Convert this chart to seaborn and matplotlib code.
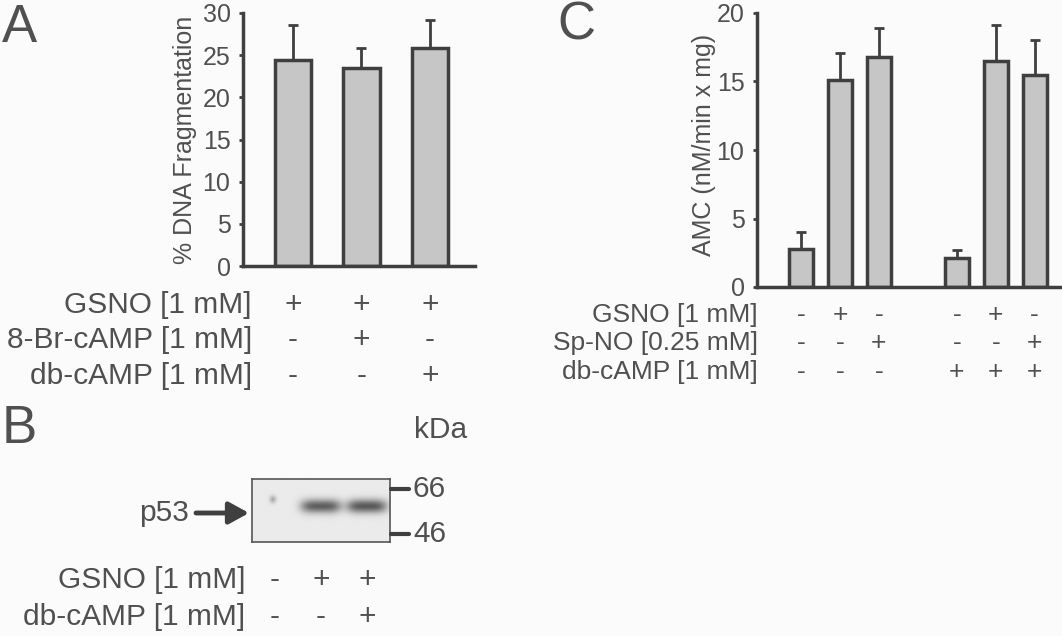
import numpy as np
import matplotlib
matplotlib.use("Agg")
import matplotlib.pyplot as plt
import matplotlib.transforms as mtransforms
import seaborn as sns

# --- data ---
# panel A: DNA fragmentation
a_conditions = ["GSNO", "GSNO+8-Br-cAMP", "GSNO+db-cAMP"]
a_values = [24.4, 23.5, 25.8]
a_errors = [4.2, 2.3, 3.4]
a_row_labels = ["GSNO [1 mM]", "8-Br-cAMP [1 mM]", "db-cAMP [1 mM]"]
a_gsno = ["+", "+", "+"]
a_brcamp = ["-", "+", "-"]
a_dbcamp = ["-", "-", "+"]

# panel B: p53 western blot
b_row_labels = ["GSNO [1 mM]", "db-cAMP [1 mM]"]
b_gsno = ["-", "+", "+"]
b_dbcamp = ["-", "-", "+"]
b_band_intensity = [0.25, 0.55, 0.57]
b_markers = ["66", "46"]

# panel C: AMC release
c_conditions = ["ctrl", "GSNO", "Sp-NO", "db", "db+GSNO", "db+Sp-NO"]
c_values = [2.8, 15.1, 16.8, 2.1, 16.5, 15.5]
c_errors = [1.2, 2.0, 2.1, 0.6, 2.6, 2.5]
c_row_labels = ["GSNO [1 mM]", "Sp-NO [0.25 mM]", "db-cAMP [1 mM]"]
c_gsno = ["-", "+", "-", "-", "+", "-"]
c_spno = ["-", "-", "+", "-", "-", "+"]
c_dbcamp = ["-", "-", "-", "+", "+", "+"]

# --- style ---
W, H = 1062, 636
TXT = "#505050"
EDGE = "#3f3f3f"
FILL = "#c6c6c6"
FS = 21.5

sns.set_theme(style="white")
plt.rcParams["font.family"] = ["Liberation Sans", "DejaVu Sans"]
plt.rcParams["text.color"] = TXT
plt.rcParams["axes.labelcolor"] = TXT
plt.rcParams["xtick.color"] = TXT
plt.rcParams["ytick.color"] = TXT

fig = plt.figure(figsize=(W / 100, H / 100), dpi=100)
fig.patch.set_facecolor("#fbfbfb")


def box(l, t, r, b):
    return [l / W, 1 - b / H, (r - l) / W, (b - t) / H]


def fx(x):
    return x / W


def fy(y):
    return 1 - y / H


def bar_panel(ax, cats, vals, errs, order, ylim, yticks, width):
    sns.barplot(x=cats, y=vals, order=order, color=FILL, saturation=1,
                width=width, edgecolor=EDGE, linewidth=2.5, errorbar=None, ax=ax)
    xs = [p.get_x() + p.get_width() / 2 for p in ax.patches]
    ax.errorbar(xs, vals, yerr=[np.zeros(len(vals)), errs], fmt="none",
                ecolor=EDGE, elinewidth=2, capsize=3.5, capthick=2, zorder=1)
    ax.set_ylim(*ylim)
    ax.set_yticks(yticks)
    ax.set_facecolor("none")
    for s in ["top", "right"]:
        ax.spines[s].set_visible(False)
    for s in ["left", "bottom"]:
        ax.spines[s].set_linewidth(2.5)
        ax.spines[s].set_color(EDGE)
    ax.tick_params(axis="y", labelsize=18, length=3, width=2, color=EDGE, pad=6,
                   left=True)
    ax.tick_params(axis="x", bottom=False, labelbottom=False)
    ax.set_xlabel("")
    return xs


def table(ax, xs, labels, rows, ys, label_x, fs=FS):
    tr = mtransforms.blended_transform_factory(ax.transData, fig.transFigure)
    for lab, row, y in zip(labels, rows, ys):
        fig.text(fx(label_x), fy(y), lab, ha="right", va="center", fontsize=fs)
        for x, s in zip(xs, row):
            ax.text(x, fy(y), s, transform=tr, ha="center", va="center", fontsize=fs)


# --- panel A ---
axA = fig.add_axes(box(243, 13, 475, 266))
xsA = bar_panel(axA, a_conditions, a_values, a_errors, a_conditions,
                (0, 30), range(0, 31, 5), 0.53)
axA.set_xlim(-0.73, 2.66)
axA.set_ylabel("% DNA Fragmentation", fontsize=18)
axA.yaxis.set_label_coords(-0.2, 0.5)
table(axA, xsA, a_row_labels, [a_gsno, a_brcamp, a_dbcamp], [305, 340, 376], 252)

# --- panel C ---
axC = fig.add_axes(box(757, 13, 1062, 287))
c_order = c_conditions[:3] + [" "] + c_conditions[3:]
xsC = bar_panel(axC, c_conditions, c_values, c_errors, c_order,
                (0, 20), range(0, 21, 5), 0.62)
axC.set_xlim(-1.13, 6.7)
axC.set_ylabel("AMC (nM/min x mg)", fontsize=18)
axC.yaxis.set_label_coords(-0.135, 0.52)
table(axC, xsC, c_row_labels, [c_gsno, c_spno, c_dbcamp], [315, 343, 372], 758,
      fs=19)

# --- panel B: blot ---
axB = fig.add_axes(box(252, 479, 390, 542))
nl = len(b_band_intensity)
gx = np.linspace(0, nl, 300)
gy = np.linspace(0, 1, 80)
X, Y = np.meshgrid(gx, gy)
img = np.full_like(X, 0.92)
for i, amp in enumerate(b_band_intensity):
    c = i + 0.5
    if i == 0:
        spot = amp * np.exp(-((X - c + 0.05) / 0.07) ** 2 - ((Y - 0.68) / 0.06) ** 2)
    else:
        spot = amp * np.exp(-((X - c) / 0.44) ** 4 - ((Y - 0.57) / 0.11) ** 2)
    img = img - spot
axB.imshow(img, cmap="gray", vmin=0, vmax=1, extent=(0, nl, 0, 1),
           origin="lower", aspect="auto", interpolation="bilinear")
axB.set_xlim(0, nl)
axB.set_ylim(0, 1)
axB.set_xticks([])
axB.set_yticks([])
for s in axB.spines.values():
    s.set_linewidth(1.2)
    s.set_color("#555555")

for lab, yy in zip(b_markers, [489, 534]):
    fig.add_artist(plt.Line2D([fx(391), fx(409)], [fy(yy), fy(yy)],
                              color=EDGE, lw=3))
    fig.text(fx(413), fy(yy), lab, ha="left", va="center", fontsize=FS)
fig.text(fx(414), fy(430), "kDa", ha="left", va="center", fontsize=FS)
fig.text(fx(189), fy(513), "p53", ha="right", va="center", fontsize=FS)
axB.annotate("", xy=(fx(249), fy(513)), xytext=(fx(196), fy(513)),
             xycoords="figure fraction", textcoords="figure fraction",
             arrowprops=dict(arrowstyle="-|>,head_length=1.0,head_width=0.55",
                             color=EDGE, lw=3.5, shrinkA=0, shrinkB=0))
b_xs = [i + 0.5 for i in range(nl)]
table(axB, b_xs, b_row_labels, [b_gsno, b_dbcamp], [580, 617], 245)

# --- panel letters ---
fig.text(fx(2), fy(42), "A", fontsize=38, va="baseline", ha="left")
fig.text(fx(2), fy(443), "B", fontsize=38, va="baseline", ha="left")
fig.text(fx(557), fy(40), "C", fontsize=38, va="baseline", ha="left")

fig.savefig("out.png", dpi=100, facecolor=fig.get_facecolor())
